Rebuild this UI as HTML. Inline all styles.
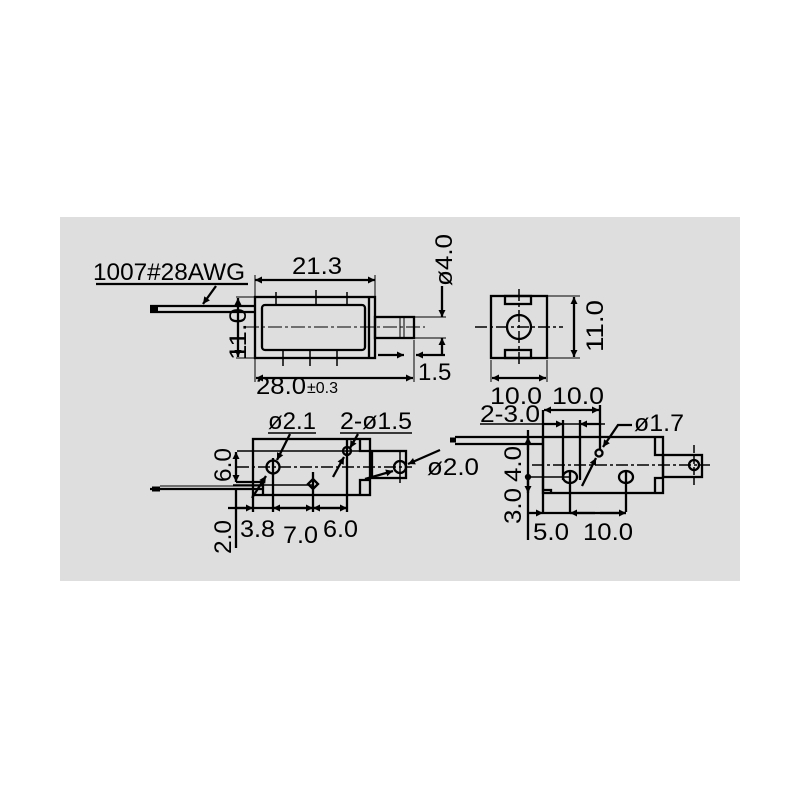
<!DOCTYPE html>
<html><head><meta charset="utf-8"><style>
html,body{margin:0;padding:0;background:#fff;}
svg{display:block;}
text{font-family:"Liberation Sans",sans-serif;fill:#000;}
</style></head><body>
<svg width="800" height="800" viewBox="0 0 800 800" xmlns="http://www.w3.org/2000/svg">
<defs>
<marker id="a" viewBox="0 0 10 10" refX="10" refY="5" markerWidth="12" markerHeight="7" orient="auto-start-reverse" markerUnits="userSpaceOnUse"><path d="M0,0 L10,5 L0,10 z" fill="#000"/></marker>
</defs>
<rect x="60" y="217" width="680" height="364" fill="#dedede"/>
<g stroke="#000" stroke-width="2.3" fill="none">
<!-- TOP VIEW -->
<line x1="96" y1="284" x2="248" y2="284"/>
<line x1="216" y1="286" x2="203" y2="304" marker-end="url(#a)"/>
<line x1="150" y1="306" x2="256" y2="306"/>
<line x1="150" y1="312" x2="256" y2="312"/>
<line x1="150" y1="309" x2="158" y2="309" stroke-width="5"/>
<rect x="255" y="297" width="120" height="61"/>
<rect x="262" y="305" width="103" height="45" rx="3"/>
<line x1="369" y1="297" x2="369" y2="358"/>
<rect x="375" y="317" width="39" height="21"/>
<line x1="400" y1="317" x2="400" y2="338" stroke-width="1"/>
<line x1="404" y1="317" x2="404" y2="338" stroke-width="1"/>
<line x1="245" y1="327" x2="425" y2="327" stroke-width="1" stroke-dasharray="14,3,3,3"/>
<line x1="276" y1="292" x2="276" y2="304" stroke-width="1.5"/>
<line x1="316" y1="290" x2="316" y2="304" stroke-width="1.5"/>
<line x1="347" y1="292" x2="347" y2="304" stroke-width="1.5"/>
<line x1="283" y1="351" x2="283" y2="366" stroke-width="1.5"/>
<line x1="310" y1="351" x2="310" y2="366" stroke-width="1.5"/>
<line x1="337" y1="351" x2="337" y2="366" stroke-width="1.5"/>
<line x1="255" y1="280" x2="375" y2="280" marker-start="url(#a)" marker-end="url(#a)"/>
<line x1="255" y1="275" x2="255" y2="297" stroke-width="1"/>
<line x1="375" y1="275" x2="375" y2="297" stroke-width="1"/>
<line x1="238" y1="298" x2="238" y2="357" marker-start="url(#a)" marker-end="url(#a)"/>
<line x1="236" y1="297" x2="255" y2="297" stroke-width="1"/>
<line x1="236" y1="358" x2="255" y2="358" stroke-width="1"/>
<line x1="442" y1="286" x2="442" y2="317" marker-end="url(#a)"/>
<line x1="442" y1="356" x2="442" y2="338" marker-end="url(#a)"/>
<line x1="414" y1="317" x2="446" y2="317" stroke-width="1"/>
<line x1="414" y1="338" x2="446" y2="338" stroke-width="1"/>
<line x1="256" y1="378" x2="413" y2="378" marker-start="url(#a)" marker-end="url(#a)"/>
<line x1="255" y1="358" x2="255" y2="382" stroke-width="1"/>
<line x1="414" y1="340" x2="414" y2="382" stroke-width="1"/>
<line x1="378" y1="355" x2="404" y2="355" marker-end="url(#a)"/>
<line x1="445" y1="355" x2="416" y2="355" marker-end="url(#a)"/>
<!-- END VIEW -->
<rect x="491" y="296" width="56" height="62"/>
<rect x="505" y="296" width="26" height="8"/>
<rect x="505" y="350" width="26" height="8"/>
<circle cx="519" cy="327" r="12"/>
<line x1="475" y1="327" x2="563" y2="327" stroke-width="1.5" stroke-dasharray="12,3,3,3"/>
<line x1="519" y1="289" x2="519" y2="366" stroke-width="1.5" stroke-dasharray="12,3,3,3"/>
<line x1="547" y1="296" x2="580" y2="296" stroke-width="1"/>
<line x1="547" y1="358" x2="580" y2="358" stroke-width="1"/>
<line x1="574" y1="297" x2="574" y2="357" marker-start="url(#a)" marker-end="url(#a)"/>
<line x1="491" y1="360" x2="491" y2="382" stroke-width="1"/>
<line x1="547" y1="360" x2="547" y2="382" stroke-width="1"/>
<line x1="492" y1="378" x2="546" y2="378" marker-start="url(#a)" marker-end="url(#a)"/>
<!-- BOTTOM LEFT -->
<rect x="253" y="439" width="117" height="56"/>
<path d="M360,439 V451 H370 M360,495 V480 H370" />
<rect x="372" y="451" width="34" height="27"/>
<line x1="150" y1="489" x2="263" y2="489"/>
<line x1="160" y1="486" x2="263" y2="486" stroke-width="1"/>
<line x1="152" y1="489" x2="160" y2="489" stroke-width="5"/>
<path d="M236,482 H263 V495"/>
<circle cx="273" cy="467" r="6.5"/>
<circle cx="347" cy="451" r="4"/>
<circle cx="400" cy="467" r="6"/>
<path d="M313,479 L318,484 L313,489 L308,484 z"/>
<line x1="237" y1="467" x2="412" y2="467" stroke-width="1.5" stroke-dasharray="12,3,3,3"/>
<line x1="273" y1="458" x2="273" y2="512"/>
<line x1="313" y1="472" x2="313" y2="512"/>
<line x1="347" y1="438" x2="347" y2="512"/>
<line x1="400" y1="452" x2="400" y2="483" stroke-width="1.5"/>
<line x1="253" y1="495" x2="253" y2="512"/>
<line x1="237" y1="451" x2="360" y2="451" stroke-width="1.5"/>
<line x1="233" y1="485" x2="313" y2="485" stroke-width="1.5"/>
<line x1="236" y1="452" x2="236" y2="482" marker-start="url(#a)" marker-end="url(#a)"/>
<line x1="236" y1="490" x2="236" y2="548"/>
<line x1="228" y1="508" x2="346" y2="508"/>
<line x1="236" y1="508" x2="253" y2="508" marker-end="url(#a)"/>
<line x1="290" y1="508" x2="273" y2="508" marker-end="url(#a)"/>
<line x1="290" y1="508" x2="313" y2="508" marker-end="url(#a)"/>
<line x1="330" y1="508" x2="313" y2="508" marker-end="url(#a)"/>
<line x1="330" y1="508" x2="347" y2="508" marker-end="url(#a)"/>
<line x1="268" y1="433" x2="316" y2="433" stroke-width="1.5"/>
<line x1="340" y1="433" x2="412" y2="433" stroke-width="1.5"/>
<line x1="290" y1="434" x2="277" y2="460" marker-end="url(#a)"/>
<line x1="252" y1="498" x2="266" y2="476" marker-end="url(#a)"/>
<line x1="358" y1="434" x2="350" y2="448" marker-end="url(#a)"/>
<line x1="333" y1="477" x2="344" y2="457" marker-end="url(#a)"/>
<line x1="440" y1="450" x2="408" y2="464" marker-end="url(#a)"/>
<line x1="365" y1="479" x2="393" y2="471" marker-end="url(#a)"/>
<!-- BOTTOM RIGHT -->
<rect x="543" y="437" width="120" height="56"/>
<path d="M655,437 V455 H663 M655,493 V478 H663"/>
<rect x="663" y="455" width="39" height="22"/>
<line x1="455" y1="437" x2="543" y2="437"/>
<line x1="455" y1="444" x2="543" y2="444"/>
<line x1="450" y1="440" x2="456" y2="440" stroke-width="5"/>
<path d="M543,490 H551 V493"/>
<line x1="532" y1="465" x2="710" y2="465" stroke-width="1.5" stroke-dasharray="12,3,3,3"/>
<ellipse cx="570" cy="477" rx="7" ry="6"/>
<ellipse cx="626" cy="477" rx="7" ry="6"/>
<circle cx="599" cy="453" r="3.5"/>
<circle cx="694" cy="465" r="5"/>
<line x1="694" y1="445" x2="694" y2="485" stroke-width="1.5" stroke-dasharray="8,3"/>
<line x1="563" y1="420" x2="563" y2="480"/>
<line x1="580" y1="420" x2="580" y2="480"/>
<line x1="600" y1="405" x2="600" y2="450"/>
<line x1="570" y1="470" x2="570" y2="512"/>
<line x1="626" y1="470" x2="626" y2="512"/>
<line x1="543" y1="410" x2="543" y2="512"/>
<line x1="544" y1="410" x2="599" y2="410" marker-start="url(#a)" marker-end="url(#a)"/>
<line x1="480" y1="424" x2="605" y2="424" stroke-width="1.5"/>
<line x1="543" y1="424" x2="563" y2="424" marker-end="url(#a)"/>
<line x1="600" y1="424" x2="580" y2="424" marker-end="url(#a)"/>
<line x1="528" y1="430" x2="528" y2="540"/>
<line x1="528" y1="437" x2="528" y2="450" marker-start="url(#a)"/>
<line x1="528" y1="493" x2="528" y2="477" marker-start="url(#a)"/>
<circle cx="528" cy="477" r="2" fill="#000"/>
<line x1="528" y1="477" x2="570" y2="477" stroke-width="1.5"/>
<line x1="528" y1="513" x2="543" y2="513" marker-end="url(#a)"/>
<line x1="543" y1="513" x2="626" y2="513"/>
<line x1="595" y1="513" x2="570" y2="513" marker-end="url(#a)"/>
<line x1="600" y1="513" x2="626" y2="513" marker-end="url(#a)"/>
<path d="M632,425 H618 L603,447" marker-end="url(#a)"/>
<line x1="582" y1="486" x2="596" y2="458" marker-end="url(#a)"/>
</g>
<g font-size="24">
<text x="93" y="280" textLength="152" lengthAdjust="spacingAndGlyphs">1007#28AWG</text>
<text x="292" y="274" textLength="50" lengthAdjust="spacingAndGlyphs">21.3</text>
<text x="256" y="394" textLength="50" lengthAdjust="spacingAndGlyphs">28.0</text><text x="307" y="393" font-size="16">±0.3</text>
<text x="418" y="380">1.5</text>
<text transform="translate(452,286) rotate(-90)" textLength="52" lengthAdjust="spacingAndGlyphs">ø4.0</text>
<text transform="translate(246,360) rotate(-90)" textLength="52" lengthAdjust="spacingAndGlyphs">11.0</text>
<text transform="translate(603,352) rotate(-90)" textLength="52" lengthAdjust="spacingAndGlyphs">11.0</text>
<text x="490" y="404" textLength="52" lengthAdjust="spacingAndGlyphs">10.0</text>
<text x="552" y="404" textLength="52" lengthAdjust="spacingAndGlyphs">10.0</text>
<text x="480" y="422" textLength="60" lengthAdjust="spacingAndGlyphs">2-3.0</text>
<text x="634" y="431" textLength="50" lengthAdjust="spacingAndGlyphs">ø1.7</text>
<text x="268" y="429" textLength="48" lengthAdjust="spacingAndGlyphs">ø2.1</text>
<text x="340" y="429" textLength="72" lengthAdjust="spacingAndGlyphs">2-ø1.5</text>
<text x="427" y="475" textLength="52" lengthAdjust="spacingAndGlyphs">ø2.0</text>
<text transform="translate(231,482) rotate(-90)" textLength="34" lengthAdjust="spacingAndGlyphs">6.0</text>
<text transform="translate(231,554) rotate(-90)" textLength="34" lengthAdjust="spacingAndGlyphs">2.0</text>
<text x="240" y="537" textLength="35" lengthAdjust="spacingAndGlyphs">3.8</text>
<text x="283" y="543" textLength="35" lengthAdjust="spacingAndGlyphs">7.0</text>
<text x="323" y="537" textLength="35" lengthAdjust="spacingAndGlyphs">6.0</text>
<text transform="translate(521,482) rotate(-90)" textLength="36" lengthAdjust="spacingAndGlyphs">4.0</text>
<text transform="translate(521,524) rotate(-90)" textLength="36" lengthAdjust="spacingAndGlyphs">3.0</text>
<text x="533" y="540" textLength="36" lengthAdjust="spacingAndGlyphs">5.0</text>
<text x="583" y="540" textLength="50" lengthAdjust="spacingAndGlyphs">10.0</text>
</g>
</svg>
</body></html>
